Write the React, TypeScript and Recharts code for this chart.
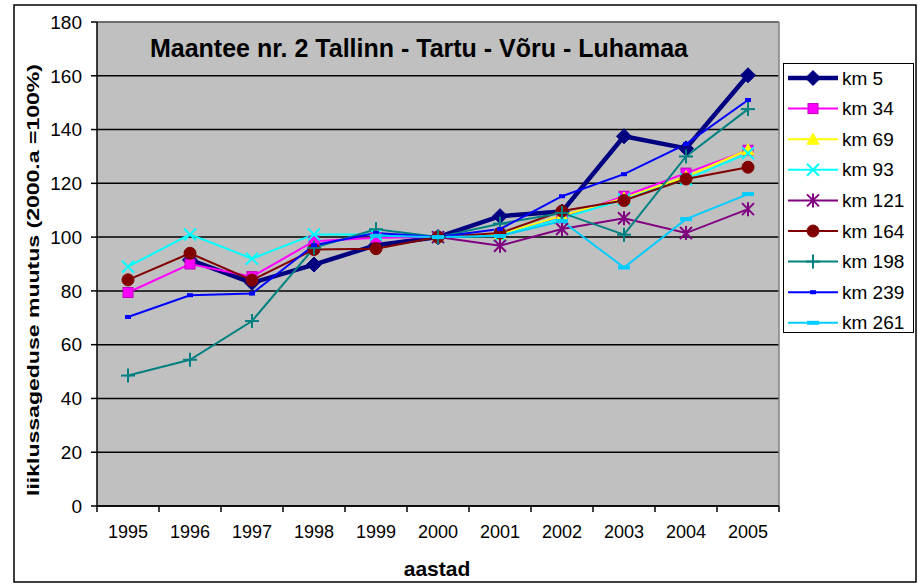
import React from 'react';
import { LineChart, Line, XAxis, YAxis, CartesianGrid, Legend, ReferenceLine } from 'recharts';

const years = ['1995', '1996', '1997', '1998', '1999', '2000', '2001', '2002', '2003', '2004', '2005'];
const km5 = [null, 91.5, 83, 89.8, 97, 100, 107.8, 109.5, 137.5, 133, 160.2];
const km34 = [79.4, 90, 85.3, 98.5, 99.8, 100, 101, 107.2, 115.2, 123.8, 132.3];
const km69 = [null, null, null, null, null, 100, 101, 108, 114.5, 122.5, 132.5];
const km93 = [89, 101, 92, 101, 101, 100, 100.5, 107, 114, 121.5, 131.2];
const km121 = [null, null, null, null, null, 100, 96.8, 103, 107, 101.5, 110.4];
const km164 = [84.1, 94, 84, 95.4, 95.7, 100, 101.5, 109.7, 113.6, 121.6, 126];
const km198 = [48.5, 54.4, 68.8, 96, 102.9, 100, 105, 109, 100.9, 130, 147.6];
const km239 = [70.3, 78.4, 79, 97, 101.5, 100, 103, 115.2, 123.4, 134.6, 151];
const km261 = [null, null, null, null, 100.5, 100, 100.4, 106, 88.7, 106.7, 116];
const yTicks = [0, 20, 40, 60, 80, 100, 120, 140, 160, 180];

const title = 'Maantee nr. 2 Tallinn - Tartu - Võru - Luhamaa';
const yTitle = 'liiklussageduse muutus (2000.a =100%)';
const xTitle = 'aastad';

type Shape = 'diamond' | 'square' | 'triangle' | 'x' | 'star' | 'circle' | 'plus' | 'dash' | 'longdash';

const series: { key: string; name: string; values: (number | null)[]; color: string; width: number; shape: Shape }[] = [
  { key: 'km5', name: 'km 5', values: km5, color: '#000080', width: 4.5, shape: 'diamond' },
  { key: 'km34', name: 'km 34', values: km34, color: '#FF00FF', width: 2, shape: 'square' },
  { key: 'km69', name: 'km 69', values: km69, color: '#FFFF00', width: 2, shape: 'triangle' },
  { key: 'km93', name: 'km 93', values: km93, color: '#00FFFF', width: 2, shape: 'x' },
  { key: 'km121', name: 'km 121', values: km121, color: '#800080', width: 2, shape: 'star' },
  { key: 'km164', name: 'km 164', values: km164, color: '#800000', width: 2, shape: 'circle' },
  { key: 'km198', name: 'km 198', values: km198, color: '#008080', width: 2, shape: 'plus' },
  { key: 'km239', name: 'km 239', values: km239, color: '#0000FF', width: 2, shape: 'dash' },
  { key: 'km261', name: 'km 261', values: km261, color: '#00CCFF', width: 2, shape: 'longdash' },
];

const data = years.map((year, i) => {
  const row: Record<string, number | string | null> = { x: i + 0.5, year };
  series.forEach((s) => {
    row[s.key] = s.values[i];
  });
  return row;
});

const W = 918;
const H = 588;
const X_AXIS_H = 30;
const MARGIN = { top: 22, right: 139, bottom: 82 - X_AXIS_H, left: 37 };
const Y_AXIS_W = 60;
const PLOT_W = W - MARGIN.left - MARGIN.right - Y_AXIS_W;
const FONT = 'Arial, "Liberation Sans", sans-serif';

function marker(shape: Shape, color: string, cx: number, cy: number, key?: string) {
  switch (shape) {
    case 'diamond':
      return <polygon key={key} points={`${cx},${cy - 7.5} ${cx + 7.5},${cy} ${cx},${cy + 7.5} ${cx - 7.5},${cy}`} fill={color} stroke={color} strokeWidth={1} />;
    case 'square':
      return <rect key={key} x={cx - 5} y={cy - 5} width={10} height={10} fill={color} stroke="#C000C0" strokeWidth={1} />;
    case 'triangle':
      return <polygon key={key} points={`${cx},${cy - 6} ${cx + 6},${cy + 5} ${cx - 6},${cy + 5}`} fill={color} stroke={color} strokeWidth={1} />;
    case 'x':
      return (
        <g key={key} stroke={color} strokeWidth={2}>
          <line x1={cx - 6} y1={cy - 6} x2={cx + 6} y2={cy + 6} />
          <line x1={cx - 6} y1={cy + 6} x2={cx + 6} y2={cy - 6} />
        </g>
      );
    case 'star':
      return (
        <g key={key} stroke={color} strokeWidth={2}>
          <line x1={cx - 6} y1={cy - 6} x2={cx + 6} y2={cy + 6} />
          <line x1={cx - 6} y1={cy + 6} x2={cx + 6} y2={cy - 6} />
          <line x1={cx} y1={cy - 7} x2={cx} y2={cy + 7} />
        </g>
      );
    case 'circle':
      return <circle key={key} cx={cx} cy={cy} r={6} fill={color} stroke={color} />;
    case 'plus':
      return (
        <g key={key} stroke={color} strokeWidth={2}>
          <line x1={cx - 7} y1={cy} x2={cx + 7} y2={cy} />
          <line x1={cx} y1={cy - 7} x2={cx} y2={cy + 7} />
        </g>
      );
    case 'dash':
      return <rect key={key} x={cx - 3} y={cy - 2} width={6} height={4} fill={color} />;
    case 'longdash':
      return <rect key={key} x={cx - 6} y={cy - 2} width={12} height={4} fill={color} />;
  }
  return null;
}

const makeDot = (shape: Shape, color: string) => (props: any) => {
  const { cx, cy, index, value } = props;
  const k = `dot-${index}`;
  if (cx == null || cy == null || value == null || Number.isNaN(cx) || Number.isNaN(cy)) return <g key={k} />;
  return <g key={k}>{marker(shape, color, cx, cy)}</g>;
};

const XTick = (props: any) => {
  const { x, y, payload } = props;
  const i = payload.value;
  if (i >= years.length) return <g />;
  return (
    <text x={x + PLOT_W / years.length / 2} y={y} dy="0.71em" textAnchor="middle" fontSize={18} fontFamily={FONT} fill="#000">
      {years[i]}
    </text>
  );
};

const renderLegend = () => (
  <div style={{ width: 131, height: 270, border: '1.5px solid #000', background: '#fff', boxSizing: 'border-box' }}>
    <svg width={128} height={267} style={{ display: 'block', overflow: 'visible' }}>
      {series.map((s, i) => {
        const cy = 14 + i * 30.6;
        return (
          <g key={s.key}>
            <line x1={4} x2={54} y1={cy} y2={cy} stroke={s.color} strokeWidth={s.width} />
            {marker(s.shape, s.color, 29, cy)}
            <text x={58} y={cy} dy="0.35em" fontSize={19} fontFamily={FONT} fill="#000">
              {s.name}
            </text>
          </g>
        );
      })}
    </svg>
  </div>
);

export default function App() {
  return (
    <div style={{ position: 'absolute', left: 0, top: 0, width: W, height: H, background: '#fff', fontFamily: FONT }}>
      <LineChart width={W} height={H} data={data} margin={MARGIN}>
        <CartesianGrid vertical={false} stroke="#000" strokeWidth={1.5} fill="#C0C0C0" fillOpacity={1} />
        <XAxis
          type="number"
          dataKey="x"
          height={X_AXIS_H}
          domain={[0, years.length]}
          ticks={years.map((_, i) => i).concat([years.length])}
          interval={0}
          tick={<XTick />}
          tickSize={6}
          tickMargin={13}
          tickLine={{ stroke: '#000', strokeWidth: 1.5 }}
          axisLine={{ stroke: '#000', strokeWidth: 1.5 }}
          allowDataOverflow
        />
        <YAxis
          width={Y_AXIS_W}
          domain={[0, 180]}
          ticks={yTicks}
          interval={0}
          tickSize={6}
          tickMargin={9}
          tick={{ fontSize: 19, fill: '#000', fontFamily: FONT }}
          tickLine={{ stroke: '#000', strokeWidth: 1.5 }}
          axisLine={{ stroke: '#000', strokeWidth: 1.5 }}
        />
        <ReferenceLine y={180} stroke="#808080" strokeWidth={1.5} />
        <ReferenceLine x={years.length} stroke="#808080" strokeWidth={1.5} />
        <Legend
          layout="vertical"
          align="center"
          verticalAlign="middle"
          content={renderLegend}
          wrapperStyle={{ position: 'absolute', left: 783, top: 63, width: 131, height: 270 }}
        />
        {series.map((s) => (
          <Line
            key={s.key}
            type="linear"
            dataKey={s.key}
            name={s.name}
            stroke={s.color}
            strokeWidth={s.width}
            dot={makeDot(s.shape, s.color)}
            activeDot={false}
            isAnimationActive={false}
            connectNulls={false}
          />
        ))}
      </LineChart>
      <svg width={W} height={H} style={{ position: 'absolute', left: 0, top: 0, pointerEvents: 'none' }}>
        <rect x={14} y={5} width={902} height={577} fill="none" stroke="#000" strokeWidth={1.5} />
        <text x={419} y={57} textAnchor="middle" fontSize={25} fontWeight="bold" fontFamily={FONT} fill="#000">
          {title}
        </text>
        <text x={437} y={576} textAnchor="middle" fontSize={21} fontWeight="bold" fontFamily={FONT} fill="#000">
          {xTitle}
        </text>
        <text
          transform="translate(38.5, 280) rotate(-90)"
          textAnchor="middle"
          fontSize={16}
          fontWeight="bold"
          fontFamily={FONT}
          fill="#000"
          textLength={432}
          lengthAdjust="spacingAndGlyphs"
        >
          {yTitle}
        </text>
      </svg>
    </div>
  );
}
